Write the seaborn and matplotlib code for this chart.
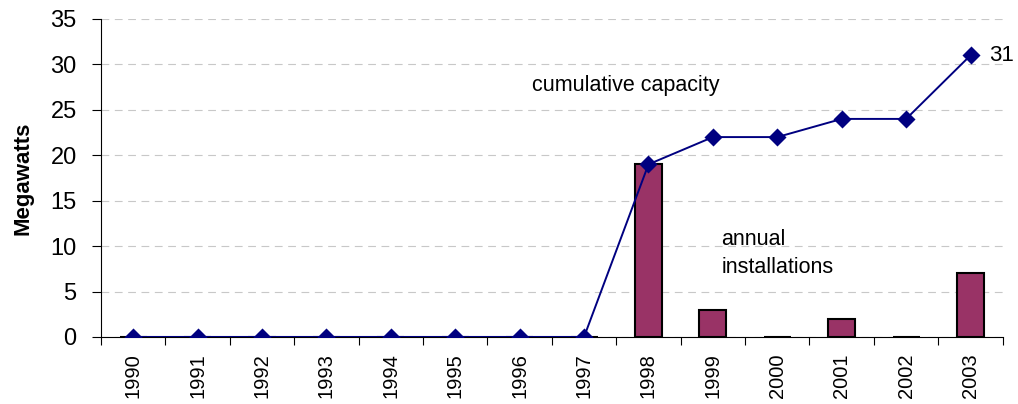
import numpy as np
import pandas as pd
import seaborn as sns
import matplotlib.pyplot as plt

years = ["1990", "1991", "1992", "1993", "1994", "1995", "1996",
         "1997", "1998", "1999", "2000", "2001", "2002", "2003"]
annual = [0, 0, 0, 0, 0, 0, 0, 0, 19, 3, 0, 2, 0, 7]
cumulative = [0, 0, 0, 0, 0, 0, 0, 0, 19, 22, 22, 24, 24, 31]

df = pd.DataFrame({"year": years, "annual": annual, "cumulative": cumulative})

sns.set_style("white")
plt.rcParams["font.family"] = ["Liberation Sans", "DejaVu Sans"]
plt.rcParams["text.color"] = "black"
plt.rcParams["axes.labelcolor"] = "black"
plt.rcParams["xtick.color"] = "black"
plt.rcParams["ytick.color"] = "black"

fig = plt.figure(figsize=(10.18, 4.04), dpi=100)
ax = fig.add_axes([0.0992, 0.166, 0.8858, 0.787])

sns.barplot(data=df, x="year", y="annual", color="#993366", width=0.42,
            edgecolor="black", linewidth=1.5, saturation=1, ax=ax, zorder=2)
sns.pointplot(data=df, x="year", y="cumulative", color="#000080", markers="D",
              markersize=8, linewidth=1.4, ax=ax, zorder=3)

ax.set_ylim(0, 35)
ax.set_xlim(-0.5, len(years) - 0.5)
ax.set_yticks(range(0, 36, 5))
ax.yaxis.grid(True, color="#c8c8c8", linestyle=(0, (7, 5)), linewidth=0.8)
ax.set_axisbelow(True)

# x ticks between categories, labels at centres
ax.set_xticks(np.arange(len(years)))
ax.set_xticklabels(years, rotation=90, fontsize=14.5)
ax.set_xticks(np.arange(-0.5, len(years)), minor=True)
ax.tick_params(axis="x", which="major", bottom=True, length=0, pad=12)
ax.tick_params(axis="x", which="minor", bottom=True, length=6, width=0.8, direction="out")
ax.tick_params(axis="y", left=True, length=6.5, width=0.8, direction="out", labelsize=17, pad=11)

for s in ["top", "right"]:
    ax.spines[s].set_visible(False)
for s in ["left", "bottom"]:
    ax.spines[s].set_color("black")
    ax.spines[s].set_linewidth(0.8)

ax.set_xlabel("")
ax.set_ylabel("Megawatts", fontsize=16, fontweight="bold", labelpad=12)

ax.text(6.19, 27.7, "cumulative capacity", fontsize=15.5, ha="left", va="center")
ax.text(9.13, 10.7, "annual", fontsize=15.5, ha="left", va="center")
ax.text(9.13, 7.6, "installations", fontsize=15.5, ha="left", va="center")
ax.text(13.29, 31.0, "31", fontsize=16, ha="left", va="center")

fig.savefig("out.png", dpi=100)
